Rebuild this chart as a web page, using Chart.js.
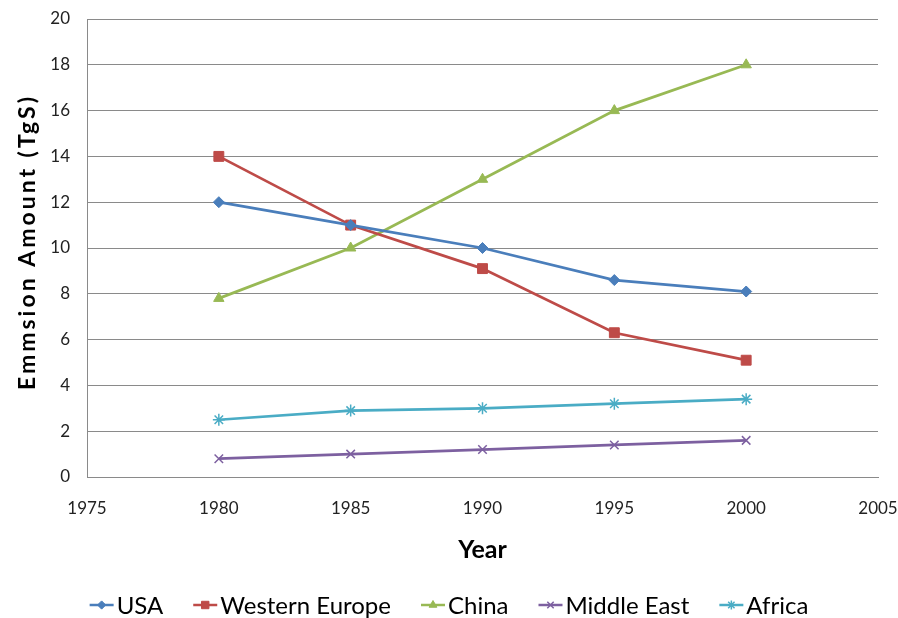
<!DOCTYPE html>
<html>
<head>
<meta charset="utf-8">
<script src="https://cdn.jsdelivr.net/npm/chart.js@4.4.1/dist/chart.umd.min.js"></script>
<style>
  html, body { margin: 0; padding: 0; background: #fff; }
  #wrap { width: 898px; height: 618px; position: relative; }
</style>
</head>
<body>
<div id="wrap"><canvas id="c" width="898" height="618"></canvas></div>
<script>
// Sulfur emissions by region, 1980-2000 (TgS)
const years = [1980, 1985, 1990, 1995, 2000];
const usa = [12, 11, 10, 8.6, 8.1];
const westernEurope = [14, 11, 9.1, 6.3, 5.1];
const china = [7.8, 10, 13, 16, 18];
const middleEast = [0.8, 1.0, 1.2, 1.4, 1.6];
const africa = [2.5, 2.9, 3.0, 3.2, 3.4];

const xTicks = [1975, 1980, 1985, 1990, 1995, 2000, 2005];
const yTicks = [0, 2, 4, 6, 8, 10, 12, 14, 16, 18, 20];
const yTitle = 'Emmsion Amount (TgS)';
const xTitle = 'Year';

const FONT = "Lato, 'Liberation Sans', sans-serif";

function pts(values) {
  return years.map((y, i) => ({ x: y, y: values[i] }));
}

function series(label, values, color, style, radius, bw) {
  return {
    label,
    data: pts(values),
    borderColor: color,
    backgroundColor: color,
    pointBackgroundColor: color,
    pointBorderColor: color,
    pointStyle: style,
    pointRadius: radius,
    pointHoverRadius: radius,
    pointBorderWidth: bw,
    borderWidth: 2.75,
    showLine: true,
    tension: 0
  };
}

const datasets = [
  series('USA', usa, '#4a7ebb', 'rectRot', 5.5, 1),
  series('Western Europe', westernEurope, '#be4b48', 'rect', 7, 1),
  series('China', china, '#98b954', 'triangle', 6, 1),
  series('Middle East', middleEast, '#7d60a0', 'crossRot', 6, 1.5),
  series('Africa', africa, '#4aacc5', 'star', 6, 1.5)
];

// Rotated value-axis title, drawn with a little letter spacing
const valueTitle = {
  id: 'valueTitle',
  afterDraw(chart) {
    const ctx = chart.ctx;
    const a = chart.chartArea;
    ctx.save();
    ctx.translate(28, (a.top + a.bottom) / 2 - 6);
    ctx.rotate(-Math.PI / 2);
    ctx.font = "bold 23px " + FONT;
    if ('letterSpacing' in ctx) ctx.letterSpacing = '3px';
    ctx.fillStyle = '#000';
    ctx.textAlign = 'center';
    ctx.textBaseline = 'middle';
    ctx.fillText(yTitle, 0, 0);
    ctx.restore();
  }
};

// Legend row under the plot: a short line with the series marker, then its name
const lineLegend = {
  id: 'lineLegend',
  afterDraw(chart) {
    const ctx = chart.ctx;
    const sets = chart.data.datasets;
    const symW = 24, symGap = 3, itemGap = 30, cy = 605;
    ctx.save();
    ctx.font = "24px " + FONT;
    const widths = sets.map(d => symW + symGap + ctx.measureText(d.label).width);
    const total = widths.reduce((a, b) => a + b, 0) + itemGap * (sets.length - 1);
    let x = chart.width / 2 - total / 2;
    sets.forEach((d, i) => {
      ctx.strokeStyle = d.borderColor;
      ctx.lineWidth = 2.5;
      ctx.beginPath();
      ctx.moveTo(x, cy);
      ctx.lineTo(x + symW, cy);
      ctx.stroke();
      ctx.fillStyle = d.backgroundColor;
      ctx.lineWidth = d.pointBorderWidth;
      Chart.helpers.drawPoint(ctx, {
        pointStyle: d.pointStyle,
        radius: d.pointRadius * 0.75,
        borderWidth: d.pointBorderWidth,
        rotation: 0
      }, x + symW / 2, cy);
      ctx.fillStyle = '#000';
      ctx.textBaseline = 'middle';
      ctx.textAlign = 'left';
      ctx.fillText(d.label, x + symW + symGap, cy + 1);
      x += widths[i] + itemGap;
    });
    ctx.restore();
  }
};

new Chart(document.getElementById('c'), {
  type: 'scatter',
  data: { datasets },
  options: {
    responsive: false,
    animation: false,
    layout: { padding: { top: 19, right: 20, left: 0, bottom: 0 } },
    plugins: {
      legend: { display: false },
      tooltip: { enabled: false }
    },
    scales: {
      x: {
        type: 'linear',
        min: 1975,
        max: 2005,
        afterBuildTicks(scale) { scale.ticks = xTicks.map(v => ({ value: v })); },
        afterFit(scale) {
          scale.height = 141;
          scale.paddingLeft = 0;
          scale.paddingRight = 0;
        },
        grid: { display: false, drawTicks: false },
        border: { display: true, color: '#8a8a8a', width: 1 },
        ticks: {
          padding: 21,
          color: '#222',
          font: { family: FONT, size: 17 },
          callback: v => String(v)
        },
        title: {
          display: true,
          text: xTitle,
          color: '#000',
          font: { family: FONT, size: 25, weight: 'bold' },
          padding: { top: 0, bottom: 53 }
        }
      },
      y: {
        min: 0,
        max: 20,
        afterBuildTicks(scale) { scale.ticks = yTicks.map(v => ({ value: v })); },
        afterFit(scale) {
          scale.width = 87;
          scale.paddingTop = 0;
          scale.paddingBottom = 0;
        },
        grid: { color: '#8a8a8a', lineWidth: 1, drawTicks: false },
        border: { display: true, color: '#8a8a8a', width: 1 },
        ticks: {
          padding: 17,
          color: '#222',
          font: { family: FONT, size: 17 }
        }
      }
    }
  },
  plugins: [valueTitle, lineLegend]
});
</script>
</body>
</html>
